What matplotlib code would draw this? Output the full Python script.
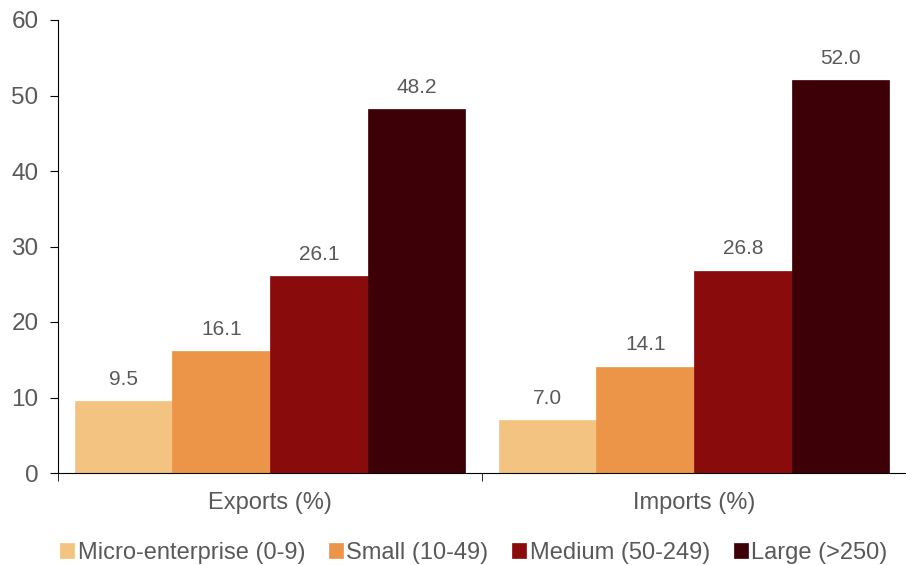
import matplotlib.pyplot as plt
import numpy as np

plt.rcParams['font.family'] = ['Liberation Sans', 'DejaVu Sans']

categories = ['Exports (%)', 'Imports (%)']
sizes = ['Micro-enterprise (0-9)', 'Small (10-49)', 'Medium (50-249)', 'Large (>250)']
values = {
    'Micro-enterprise (0-9)': [9.5, 7.0],
    'Small (10-49)': [16.1, 14.1],
    'Medium (50-249)': [26.1, 26.8],
    'Large (>250)': [48.2, 52.0],
}
colors = ['#F3C381', '#EC9447', '#8A0B0B', '#3D0006']
text_color = '#595959'

fig = plt.figure(figsize=(9.06, 5.65), dpi=100)
ax = fig.add_axes([58 / 906, 92 / 565, 848 / 906, 453 / 565])

x = np.arange(len(categories))
width = 0.23
for i, (name, col) in enumerate(zip(sizes, colors)):
    pos = x + (i - 1.5) * width
    bars = ax.bar(pos, values[name], width, color=col, label=name,
                  edgecolor=col, linewidth=0.5)
    for b, v in zip(bars, values[name]):
        ax.text(b.get_x() + b.get_width() / 2, v + 2.9, f'{v:.1f}',
                ha='center', va='center', fontsize=15, color=text_color)

ax.set_xlim(-0.5, 1.465)
ax.set_ylim(0, 60)
ax.set_yticks(range(0, 61, 10))
ax.set_xticks(x)
ax.set_xticklabels(categories)
ax.set_xticks([-0.5, 0.5, 1.5], minor=True)
ax.tick_params(axis='x', which='major', length=0, pad=14, labelsize=17, labelcolor=text_color)
ax.tick_params(axis='x', which='minor', length=6, direction='out', color='black')
ax.tick_params(axis='y', length=6, direction='out', pad=8, labelsize=17.5, labelcolor=text_color)

for s in ['top', 'right']:
    ax.spines[s].set_visible(False)
ax.spines['left'].set_color('black')
ax.spines['bottom'].set_color('black')

fig.legend(loc='lower center', bbox_to_anchor=(0.523, -0.035), ncol=4, frameon=False,
           fontsize=17, handlelength=0.6, handleheight=0.6, handletextpad=0.15,
           columnspacing=1.0, labelcolor=text_color)

fig.savefig('out.png', dpi=100)
